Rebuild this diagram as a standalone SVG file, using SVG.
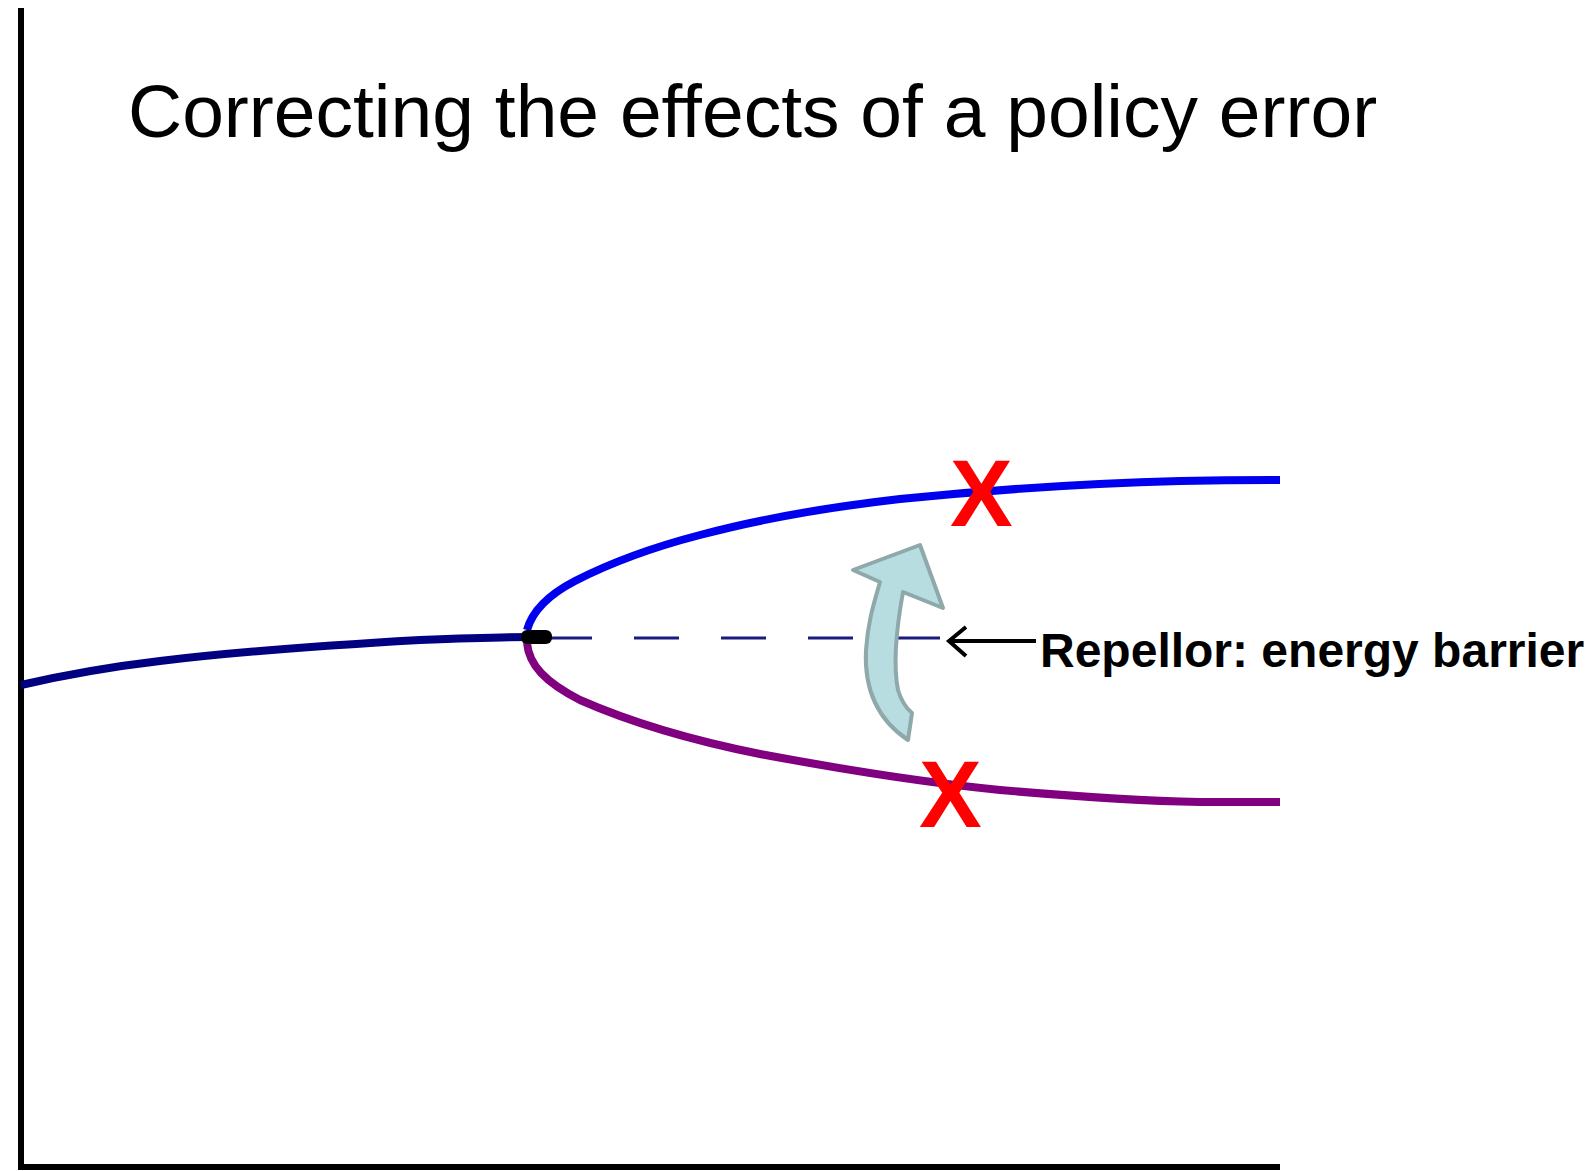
<svg xmlns="http://www.w3.org/2000/svg" width="1596" height="1171" viewBox="0 0 1596 1171">
<style>
.title{font-family:"Liberation Sans",Arial,sans-serif;font-size:75px;fill:#000}
.lbl{font-family:"Liberation Sans",Arial,sans-serif;font-size:48px;font-weight:bold;fill:#000}
.x{font-family:"Liberation Sans",Arial,sans-serif;font-size:94px;font-weight:bold;fill:#ff0000}
.curve{fill:none;stroke-width:8;stroke-linecap:butt;stroke-linejoin:round}
</style>
<rect width="1596" height="1171" fill="#fff"/>
<g id="axes">
<line x1="21" y1="8" x2="21" y2="1167" stroke="#000" stroke-width="6"/>
<line x1="18" y1="1167" x2="1280" y2="1167" stroke="#000" stroke-width="6"/>
</g>
<text id="title" class="title" x="128" y="137">Correcting the effects of a policy error</text>
<g id="curves">
<path id="stable-left" class="curve" stroke="#000080" d="M21,685 C60,676 100,668 160,661 C250,650 350,644 420,640 C470,638 500,637 531,637"/>
<path id="repellor" fill="none" stroke="#1a1a80" stroke-width="3" stroke-dasharray="45 42" d="M547,638 L940,638"/>
<path id="upper" class="curve" stroke="#0000ee" d="M527,630 C532,612 548,595 575,581 C610,563 650,548 700,535 C760,519 830,507 900,499 C1000,489 1100,483 1180,481 C1230,480 1260,480 1280,480"/>
<path id="lower" class="curve" stroke="#800080" d="M527,643 C529,665 545,682 580,700 C630,722 690,740 760,754 C840,769 920,782 1000,790 C1080,797 1150,801 1200,802 C1240,802 1265,802 1280,802"/>
<rect id="bif" x="521" y="630" width="31" height="14" rx="6" fill="#000"/>
</g>
<g id="nudge-arrow">
<path d="M853,570 L920,545 L943,608 L903,592 C897,625 893,665 898,690 C901,700 906,708 912,713 L908,740 C878,720 864,690 866,650 C868,620 875,600 880,582 Z" fill="#b7dde0" stroke="#8fa8aa" stroke-width="4" stroke-linejoin="round"/>
</g>
<g id="connectors">
<path d="M950,641 L1036,641" stroke="#000" stroke-width="4" fill="none"/>
<path d="M966,627 L949,641 L966,656" stroke="#000" stroke-width="4" fill="none" stroke-linejoin="miter"/>
</g>
<text id="repellor-label" class="lbl" x="1040" y="667">Repellor: energy barrier</text>
<text id="x-upper" class="x" x="950" y="526">X</text>
<text id="x-lower" class="x" x="919" y="827">X</text>
</svg>
